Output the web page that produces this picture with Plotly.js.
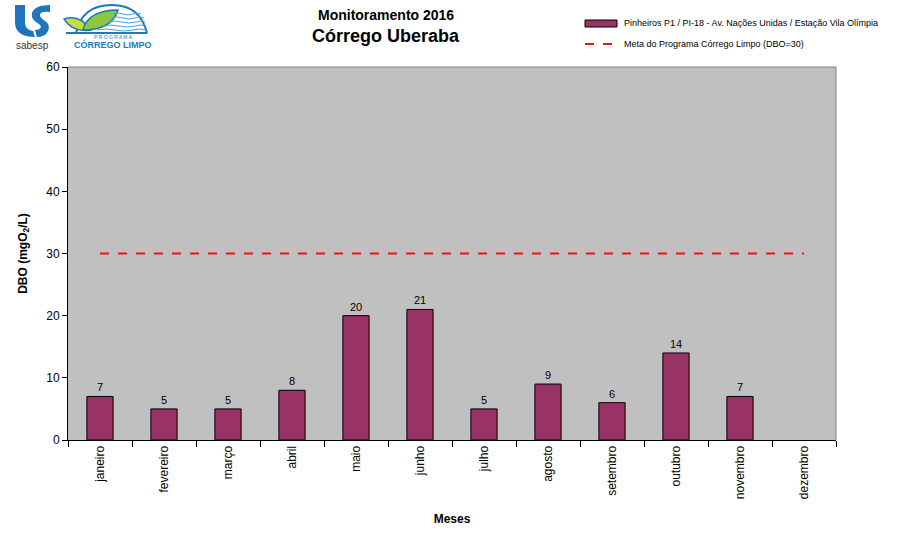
<!DOCTYPE html>
<html><head><meta charset="utf-8">
<script src="https://cdn.plot.ly/plotly-3.0.1.min.js"></script>
<style>body{margin:0;background:#fff}#c{width:898px;height:542px}</style>
</head><body><div id="c"></div>
<script>
var months = ["janeiro","fevereiro","março","abril","maio","junho","julho","agosto","setembro","outubro","novembro","dezembro"];
var dbo = [7,5,5,8,20,21,5,9,6,14,7,null];
var metaValue = 30;
var meta = months.map(function(){return metaValue;});
var seriesName = "Pinheiros P1 / PI-18 - Av. Nações Unidas / Estação Vila Olímpia";
var metaName = "Meta do Programa Córrego Limpo (DBO=30)";

var F = "Liberation Sans, Arial, sans-serif";
var ML=68, MT=67, PW=768, PH=373;
function px(x){return (x-ML)/PW;}
function py(y){return (MT+PH-y)/PH;}
function P(s){
  var t=s.trim().split(/\s+/), out=[], i=0;
  while(i<t.length){
    if(/^[A-Za-z]$/.test(t[i])){out.push(t[i]);i++;}
    else{out.push(px(+t[i]).toFixed(4)+" "+py(+t[i+1]).toFixed(4));i+=2;}
  }
  return out.join(" ");
}
function shp(path,fill,lc,lw){return {type:"path",xref:"paper",yref:"paper",layer:"above",path:P(path),
  fillcolor:fill||"rgba(0,0,0,0)",line:{color:lc||"rgba(0,0,0,0)",width:lw||0}};}
function ann(x,y,text,size,color,anchor){return {xref:"paper",yref:"paper",x:px(x),y:py(y),xanchor:anchor||"center",
  yanchor:"middle",showarrow:false,text:text,font:{family:F,size:size,color:color||"#000"}};}

var bars = {
  type:"bar", x:months, y:dbo, name:seriesName, width:0.41,
  marker:{color:"#993366", line:{color:"#000", width:1}},
  texttemplate:"%{y}", textposition:"outside",
  textfont:{family:F,size:11,color:"#000"}, cliponaxis:false, showlegend:false
};
var line = {
  type:"scatter", mode:"lines", x:months, y:meta, name:metaName, showlegend:false,
  line:{color:"#e8141b", width:2, dash:"dash"}
};
var blue="#1f74bb", lblue="#1b7ab8";
var shapes=[
  {type:"line",xref:"paper",yref:"paper",x0:0,x1:1,y0:1,y1:1,line:{color:"#808080",width:1}},
  {type:"line",xref:"paper",yref:"paper",x0:1,x1:1,y0:0,y1:1,line:{color:"#808080",width:1}},
  {type:"rect",xref:"paper",yref:"paper",x0:px(585),x1:px(617),y0:py(27),y1:py(20),fillcolor:"#993366",line:{color:"#000",width:1}},
  {type:"line",xref:"paper",yref:"paper",x0:px(585),x1:px(617),y0:py(44),y1:py(44),line:{color:"#e8141b",width:2,dash:"dash"}},
  shp("M 15 5 L 25 5 L 25 22 Q 25 30 33 31 L 35 37 Q 15 37 15 22 Z", blue),
  shp("M 50 5 L 50 12 Q 40 11 40 15 Q 40 18 45 21 Q 51 25 48 31 Q 45 37 37 37 L 35 30 Q 40 30 41 27 Q 41 25 36 22 Q 31 19 32 13 Q 35 5 50 5 Z", blue),
  shp("M 76 33 Q 82 5 112 5 Q 140 5 147 33", null, lblue, 2),
  shp("M 66 33 L 147 33", null, lblue, 2),
  shp("M 64 19 Q 80 14 91 30 Q 72 33 64 19 Z", "#c8dc3c", lblue, 1.5),
  shp("M 83 30 Q 88 10 118 10 Q 112 30 83 30 Z", "#8dc63f", lblue, 1.5),
  shp("M 113 14 Q 118 12 123 14 Q 128 16 133 14 Q 137 12 141 14", null, "#4aa3d8", 1),
  shp("M 111 18 Q 117 16 123 18 Q 129 20 135 18 Q 140 16 144 18", null, "#4aa3d8", 1),
  shp("M 108 22 Q 115 20 122 22 Q 129 24 136 22 Q 141 20 145 22", null, "#4aa3d8", 1),
  shp("M 103 26 Q 111 24 119 26 Q 127 28 135 26 Q 141 24 146 26", null, "#4aa3d8", 1),
  shp("M 97 30 Q 106 28 115 30 Q 124 32 133 30 Q 140 28 146 30", null, "#4aa3d8", 1)
];
var annotations=[
  ann(386,15,"<b>Monitoramento 2016</b>",14),
  ann(386,36,"<b>Córrego Uberaba</b>",18),
  ann(32,46,"sabesp",10,"#333"),
  ann(113,37,"P R O G R A M A",5,lblue),
  ann(113,45,"<b>CÓRREGO LIMPO</b>",9,lblue),
  ann(622,23,seriesName,9,"#000","left"),
  ann(622,44,metaName,9,"#000","left")
];
var layout = {
  width:898, height:542,
  margin:{l:ML,r:898-ML-PW,t:MT,b:542-MT-PH},
  paper_bgcolor:"#fff", plot_bgcolor:"#c0c0c0",
  font:{family:F,size:12,color:"#000"},
  showlegend:false,
  xaxis:{type:"category", tickangle:-90, tickson:"boundaries", ticks:"outside", ticklen:6, tickcolor:"#000",
         showline:true, linecolor:"#000", linewidth:1, showgrid:false, tickfont:{family:F,size:12},
         title:{text:"<b>Meses</b>", font:{family:F,size:12}, standoff:16}},
  yaxis:{range:[0,60], dtick:10, ticks:"outside", ticklen:5, tickcolor:"#000", showline:true, linecolor:"#000",
         linewidth:1, showgrid:false, zeroline:false, tickfont:{family:F,size:12},
         title:{text:"<b>DBO (mgO<sub>2</sub>/L)</b>", font:{family:F,size:12}, standoff:16}},
  shapes:shapes, annotations:annotations
};
Plotly.newPlot("c",[bars,line],layout,{displayModeBar:false,staticPlot:true});
</script></body></html>
